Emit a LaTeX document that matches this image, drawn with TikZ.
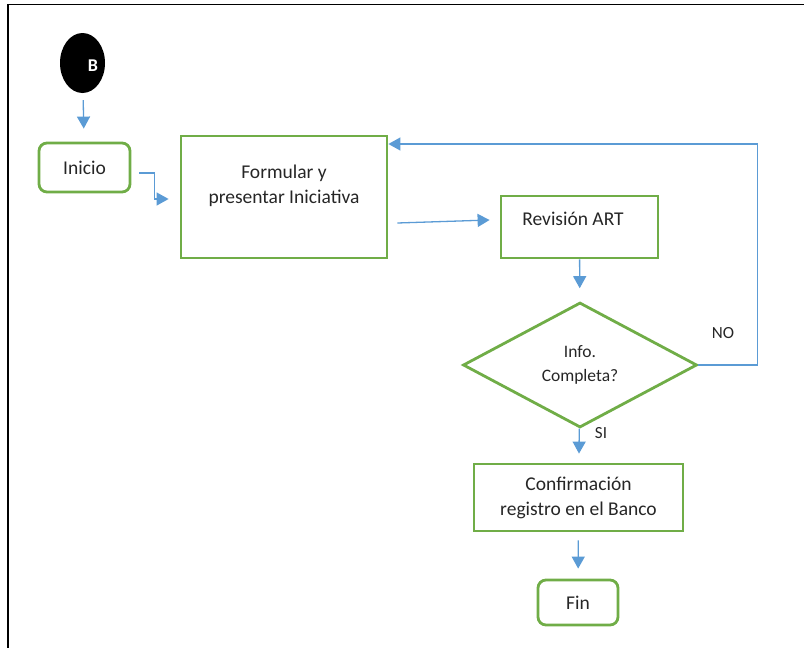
\documentclass[tikz,border=0pt]{standalone}
\usepackage{fontspec}
\setmainfont{Carlito}
\usetikzlibrary{arrows.meta,shapes.geometric}
\definecolor{verde}{HTML}{70AD47}
\definecolor{azul}{HTML}{5B9BD5}
\definecolor{gristexto}{HTML}{262626}
\begin{document}
\begin{tikzpicture}[x=1pt, y=-1pt]
       \tikzset{>={Triangle[width=13pt,length=12pt]}}
       \tikzset{caja/.style={draw=verde, line width=2.8pt, text=gristexto, font=\fontsize{19.5}{25}\selectfont, align=center, inner sep=0pt}}
       \tikzset{redonda/.style={caja, rounded corners=8pt}}
       \tikzset{rotulo/.style={text=gristexto, font=\fontsize{19.5}{25}\selectfont, align=center, inner sep=0pt}}
       \tikzset{flecha/.style={->, draw=azul, line width=1.3pt}}
       \useasboundingbox (0,0) rectangle (804,648);
       \draw[line width=1.6pt] (8,648) -- (8,4.5) -- (804,4.5);

       \node[ellipse, fill=black, minimum width=45pt, minimum height=60pt, inner sep=0pt] (1) at (82.5,63) {};
       \node[text=white, font=\fontsize{18}{18}\selectfont\bfseries, inner sep=0pt] (1t) at (93,66) {B};
       \node[redonda, minimum width=91pt, minimum height=49pt] (2) at (84.5,167.5) {Inicio};
       \node[caja, minimum width=206pt, minimum height=122pt] (3) at (284,197) {};
       \node[rotulo] (3t) at (284,186) {Formular y\\presentar Iniciativa};
       \node[caja, minimum width=157pt, minimum height=62pt] (4) at (579.5,227) {};
       \node[rotulo] (4t) at (573,219) {Revisión ART};
       \node[caja, diamond, minimum width=234pt, minimum height=125pt, font=\fontsize{17.5}{24}\selectfont] (5) at (580,365) {Info.\\Completa?};
       \node[caja, minimum width=209pt, minimum height=67pt] (6) at (578.5,497.5) {Confirmación\\registro en el Banco};
       \node[redonda, minimum width=80pt, minimum height=45pt] (7) at (578,602.5) {Fin};
       \node[rotulo, font=\fontsize{17}{17}\selectfont] (no) at (723,333) {NO};
       \node[rotulo, font=\fontsize{17}{17}\selectfont] (si) at (601,433) {SI};

       \draw[flecha, shorten <=7pt, shorten >=13pt] (1) -- (2);
       \draw[flecha] ([xshift=8pt,yshift=-5.5pt]2.east) -- ++(15,0) |- ([xshift=-11pt,yshift=-2pt]3.west);
       \draw[flecha] ([xshift=9pt,yshift=-26pt]3.east) -- ([xshift=-10pt,yshift=7pt]4.west);
       \draw[flecha, shorten >=13pt] (4) -- (5);
       \draw[flecha, shorten >=9pt] (5) -- (6);
       \draw[flecha, shorten <=8pt, shorten >=10pt] (6) -- (7);
       \draw[flecha] (5.east) -- ++(59,0) |- ([yshift=53pt]3.east);
   \end{tikzpicture}
\end{document}
